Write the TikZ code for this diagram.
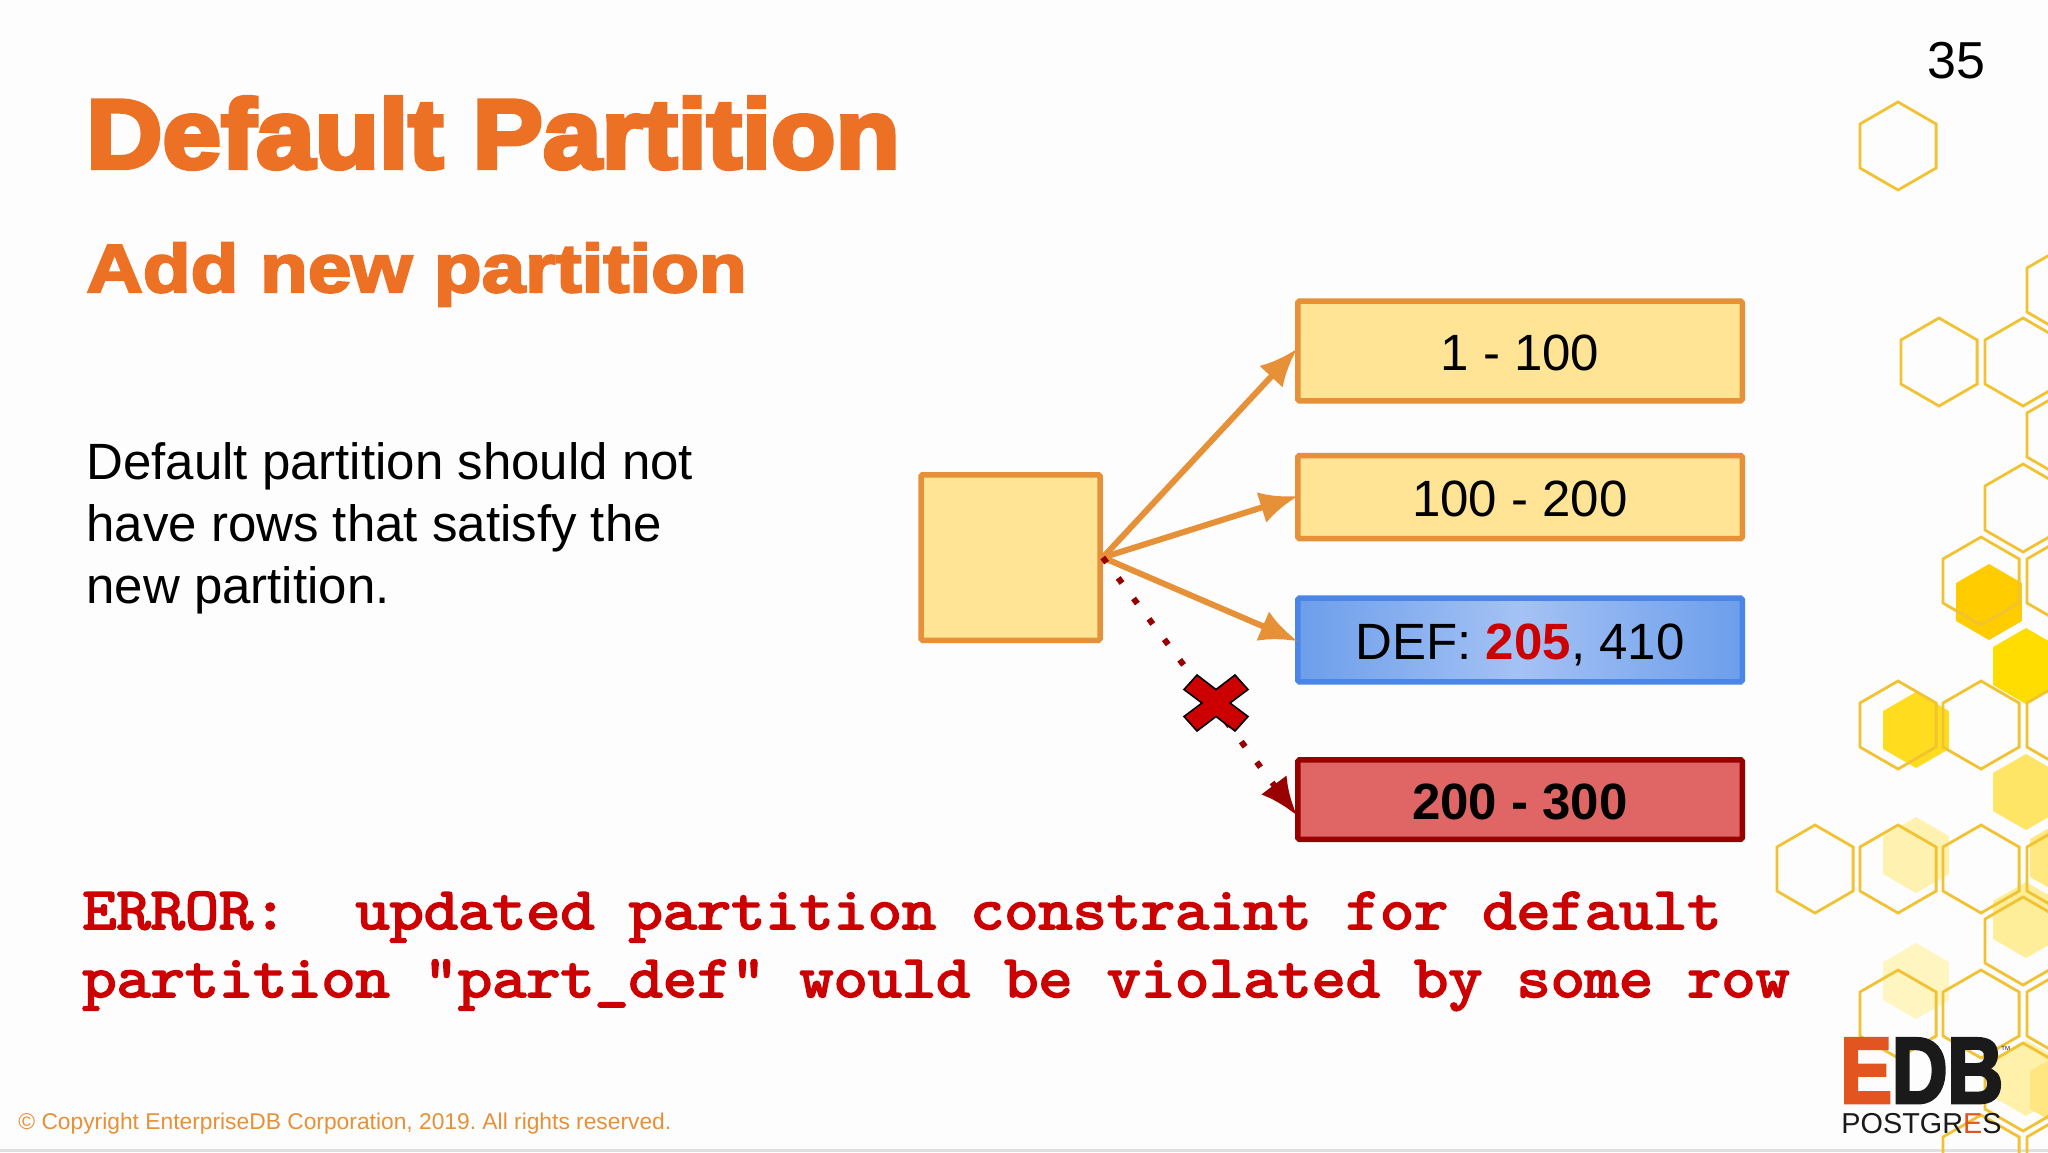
\documentclass[tikz,border=0pt]{standalone}
\usepackage{fontspec}
\setmainfont{Liberation Sans}
\newfontfamily\headfont[BoldFeatures={FakeBold=4.5,FakeStretch=1.075}]{Liberation Sans}
\newfontfamily\subheadfont[BoldFeatures={FakeBold=3.5,FakeStretch=1.15}]{Liberation Sans}
\newfontfamily\logofont[BoldFeatures={FakeBold=3,FakeStretch=.82}]{Liberation Sans}
\newfontfamily\errfont[Extension=.otf,FakeBold=3,FakeStretch=1.084]{lmmono10-regular}
\usetikzlibrary{arrows.meta}
\definecolor{slidebg}{RGB}{254,253,254}
\definecolor{headorange}{RGB}{236,113,36}
\definecolor{partfill}{RGB}{255,228,150}
\definecolor{partline}{RGB}{230,145,56}
\definecolor{defline}{RGB}{74,134,232}
\definecolor{defside}{RGB}{109,158,235}
\definecolor{defmid}{RGB}{164,194,244}
\definecolor{newline}{RGB}{153,0,0}
\definecolor{newfill}{RGB}{224,102,102}
\definecolor{errred}{RGB}{204,0,0}
\definecolor{cellline}{RGB}{241,194,50}
\definecolor{logored}{RGB}{226,84,32}
\definecolor{logoblack}{RGB}{26,26,26}
\tikzset{
    partbox/.style={draw=partline,fill=partfill,line width=2.75pt,rounded corners=0.8pt,minimum width=222.25pt,inner sep=0pt,text height=19.6pt,text depth=0pt,font=\fontsize{25.5}{30}\selectfont},
    fanout/.style={draw=partline,line width=3pt,shorten >=-1.5pt,-{Latex[length=19pt,width=16pt]}},
    honey/.style={draw=cellline,line width=1.4pt}
}

\begin{document}
\begin{tikzpicture}[x=0.5pt,y=-0.5pt]
    \clip (0,0) rectangle (2048,1152);
    \fill[slidebg] (0,0) rectangle (2048,1152);
    \fill[black!12] (0,1149) rectangle (2048,1152);

    % filled cells
    \foreach \hx/\hy/\hc in {1989/602/{255,204,0},2026/666/{255,221,0},1916/730/{255,221,30},2026/792/{255,229,102},
            1916/855/{255,242,176},2063/858/{255,232,128},2026/920/{255,238,153},1916/981/{255,245,192},
            2026/1078/{255,240,170},2063/1090/{255,230,128}} {
        \definecolor{cellfill}{RGB}{\hc}
        \fill[cellfill] (\hx,\hy) +(90:38) -- +(150:38) -- +(210:38) -- +(270:38) -- +(330:38) -- +(30:38) -- cycle;
    }
    % outlined cells
    \foreach \hx/\hy in {1898/146,1939/362,2023/362,2065/290,2065/435,2023/508,1981/581,2065/581,
            1898/725,1981/725,2065/725,1815/869,1898/869,1981/869,2065/869,2023/941,
            1898/1014,1981/1014,2065/1014,2023/1087,1981/1159,2065/1159} {
        \draw[honey] (\hx,\hy) +(90:44) -- +(150:44) -- +(210:44) -- +(270:44) -- +(330:44) -- +(30:44) -- cycle;
    }

    % headings and text
    \node[anchor=base west,inner sep=0pt,text=headorange] (title) at (86,168) {\headfont\bfseries\fontsize{49}{60}\selectfont Default Partition};
    \node[anchor=base west,inner sep=0pt,text=headorange] (subtitle) at (86,292) {\subheadfont\bfseries\fontsize{34}{40}\selectfont Add new partition};
    \node[anchor=base east,inner sep=0pt] (pageno) at (1986,78) {\fontsize{26}{32}\selectfont 35};
    \node[anchor=north west,inner sep=0pt,align=left,font=\fontsize{25.5}{31}\selectfont] (body) at (86,442.5) {Default partition should not\\have rows that satisfy the\\new partition.};

    % partitions
    \node[partbox,minimum width=89.5pt,minimum height=82.75pt] (root) at (1010.5,557.5) {};
    \node[partbox,minimum height=49.9pt] (rangea) at (1520,351) {1 - 100};
    \node[partbox,minimum height=41.5pt] (rangeb) at (1520,497) {100 - 200};
    \node[partbox,draw=defline,left color=defside,right color=defside,middle color=defmid,minimum height=41.9pt] (rangedef) at (1520,640) {DEF: \textcolor{errred}{\textbf{205}}, 410};
    \node[partbox,draw=newline,fill=newfill,minimum height=39.75pt,font=\fontsize{25.5}{30}\selectfont\bfseries] (rangenew) at (1520,799.5) {200 - 300};

    \coordinate (newend) at (1295,813);
    \draw[fanout] (root.east) -- (rangea.west);
    \draw[fanout] (root.east) -- (rangeb.west);
    \draw[fanout] (root.east) -- (rangedef.west);
    \draw[newline,line width=3pt,dash pattern=on 3.2pt off 9.6pt,shorten >=-1.5pt,-{Latex[length=19pt,width=16pt]}] (root.east) -- (newend);

    % cross on the blocked route
    \draw[fill=errred,draw=black,line width=0.8pt,shift={(1216,703)},line join=miter]
        (-19,-28) -- (0,-13.5) -- (19,-28) -- (32,-13.5) -- (14,0) -- (32,13.5) -- (19,28) -- (0,13.5)
        -- (-19,28) -- (-32,13.5) -- (-14,0) -- (-32,-13.5) -- cycle;

    \node[anchor=base west,inner sep=0pt,text=errred,font=\errfont\fontsize{30}{34}\selectfont] (errmsga) at (82,929) {ERROR:\ \ updated partition constraint for default};
    \node[anchor=base west,inner sep=0pt,text=errred,font=\errfont\fontsize{30}{34}\selectfont] (errmsgb) at (82,997) {partition "part\_def" would be violated by some row};

    \node[anchor=base west,inner sep=0pt,text=partline,font=\frenchspacing\fontsize{11.4}{14}\selectfont] (copyright) at (18,1129) {© Copyright EnterpriseDB Corporation, 2019. All rights reserved.};

    % logo
    \node[anchor=base west,inner sep=0pt,font=\logofont\bfseries\fontsize{47}{50}\selectfont] (edb) at (1840,1103) {\textcolor{logored}{E}\textcolor{logoblack}{DB}};
    \node[anchor=base west,inner sep=0pt,font=\fontsize{14.4}{17}\selectfont,text=logoblack] (postgres) at (1841,1133) {POSTGR\textcolor{logored}{E}S};
    \node[anchor=base west,inner sep=0pt,font=\fontsize{3}{4}\selectfont,text=logoblack] (tm) at (2001,1050) {TM};
\end{tikzpicture}
\end{document}
